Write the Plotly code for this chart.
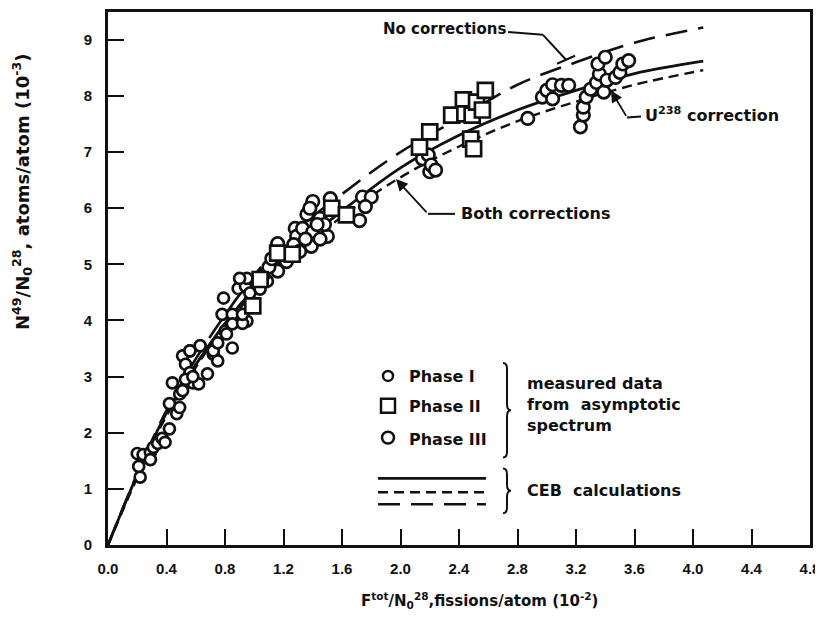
import plotly.graph_objects as go

# ---------------- data ----------------
phase1_x = [0.22, 0.21, 0.20, 0.24, 0.29, 0.31, 0.29, 0.34, 0.37, 0.39, 0.42, 0.42, 0.47, 0.49, 0.49,
            0.44, 0.51, 0.56, 0.63, 0.53, 0.58, 0.62, 0.68, 0.56, 0.72, 0.75, 0.72, 0.85, 0.80, 0.78,
            0.85, 0.92, 0.95, 0.81, 0.75, 0.63, 0.56, 0.79, 0.85, 0.92, 0.92, 0.89, 0.94, 0.95, 0.97,
            0.90, 1.04, 1.09, 0.51, 0.53, 0.58]
phase1_y = [1.21, 1.40, 1.63, 1.61, 1.65, 1.74, 1.52, 1.81, 1.90, 1.83, 2.07, 2.52, 2.34, 2.45, 2.69,
            2.89, 3.37, 3.46, 3.55, 3.22, 2.89, 2.87, 3.05, 3.07, 3.40, 3.28, 3.46, 3.51, 3.81, 4.11,
            4.11, 4.02, 3.99, 3.76, 3.60, 3.55, 3.46, 4.40, 3.94, 3.95, 4.11, 4.57, 4.61, 4.75, 4.49,
            4.75, 4.56, 4.70, 2.75, 2.95, 3.00]

phase2_x = [0.99, 1.04, 1.16, 1.26, 1.53, 1.63, 2.13, 2.20, 2.35, 2.43, 2.44, 2.49, 2.52, 2.56, 2.58,
            2.48, 2.50]
phase2_y = [4.26, 4.73, 5.20, 5.18, 6.00, 5.88, 7.09, 7.36, 7.66, 7.93, 7.68, 7.66, 7.89, 7.75, 8.10,
            7.23, 7.06]

phase3_x = [1.16, 1.16, 1.28, 1.29, 1.39, 1.50, 1.36, 1.45, 1.48, 1.33, 1.40, 1.43, 1.27, 1.31, 1.40,
            1.52, 1.74, 1.80, 1.76, 1.72, 1.22, 1.35, 1.45, 1.38, 1.06, 1.10, 1.12,
            2.15, 2.20, 2.19, 2.21, 2.24, 2.87, 2.97, 3.00, 3.04, 3.10, 3.15, 3.04, 3.23, 3.25, 3.25,
            3.27, 3.30, 3.34, 3.36, 3.35, 3.40, 3.39, 3.41, 3.47, 3.50, 3.52, 3.56]
phase3_y = [4.88, 5.37, 5.64, 5.50, 5.32, 5.50, 5.89, 5.82, 5.71, 5.64, 5.58, 5.71, 5.35, 5.23, 6.12,
            6.17, 6.20, 6.20, 6.03, 5.78, 5.05, 5.45, 5.45, 6.00, 4.80, 4.95, 5.10,
            6.88, 6.65, 6.95, 6.77, 6.68, 7.60, 7.98, 8.10, 8.20, 8.19, 8.19, 7.95, 7.45, 7.66, 7.80,
            7.98, 8.12, 8.24, 8.39, 8.57, 8.69, 8.07, 8.28, 8.33, 8.42, 8.57, 8.63]

# CEB calculation curves
both_x = [0.0, 0.2, 0.4, 0.8, 1.2, 1.6, 2.0, 2.4, 2.8, 3.2, 3.6, 4.07]
both_y = [0.0, 1.25, 2.35, 3.95, 5.1, 5.95, 6.72, 7.3, 7.75, 8.1, 8.4, 8.62]
u238_x = [0.0, 0.2, 0.4, 0.8, 1.2, 1.6, 2.0, 2.4, 2.8, 3.2, 3.6, 4.07]
u238_y = [0.0, 1.2, 2.3, 3.9, 5.0, 5.85, 6.55, 7.1, 7.55, 7.9, 8.2, 8.46]
nocorr_x = [0.0, 0.4, 0.8, 1.2, 1.6, 2.0, 2.4, 2.8, 3.2, 3.6, 4.07]
nocorr_y = [0.0, 2.4, 4.1, 5.4, 6.25, 7.0, 7.6, 8.2, 8.6, 8.95, 9.22]

x_ticks = [0.0, 0.4, 0.8, 1.2, 1.6, 2.0, 2.4, 2.8, 3.2, 3.6, 4.0, 4.4, 4.8]
y_ticks = [0, 1, 2, 3, 4, 5, 6, 7, 8, 9]

# ---------------- layout helpers (screen pixel -> data) ----------------
OFF = 8                      # page body margin of the browser
SW, SH = 823, 620            # screen size
W, H = SW - OFF, SH - OFF    # figure size
PL, PR, PT, PB = 108, 810, 9, 545   # plot area in screen pixels
XMAX = 4.8
YMAX = (PB - PT) / ((545 - 37) / 9.0)


def dx(px):
    return (px - PL) / (PR - PL) * XMAX


def dy(py):
    return (PB - py) / (PB - PT) * YMAX


FONT = "DejaVu Sans"
TICKFONT = "Liberation Sans"
BLACK = "#111111"

fig = go.Figure()

fig.add_trace(go.Scatter(x=nocorr_x, y=nocorr_y, mode="lines", line_shape="spline",
                         line=dict(color=BLACK, width=2.6, dash="22px,11px"), name="No corrections"))
fig.add_trace(go.Scatter(x=u238_x, y=u238_y, mode="lines", line_shape="spline",
                         line=dict(color=BLACK, width=2.4, dash="10px,6px"), name="U238 correction"))
fig.add_trace(go.Scatter(x=both_x, y=both_y, mode="lines", line_shape="spline",
                         line=dict(color=BLACK, width=2.8), name="Both corrections"))

mk_line = dict(color=BLACK, width=2.7)
fig.add_trace(go.Scatter(x=phase1_x, y=phase1_y, mode="markers", name="Phase I",
                         marker=dict(symbol="circle", size=11, color="white", line=mk_line)))
fig.add_trace(go.Scatter(x=phase3_x, y=phase3_y, mode="markers", name="Phase III",
                         marker=dict(symbol="circle", size=12.5, color="white", line=mk_line)))
fig.add_trace(go.Scatter(x=phase2_x, y=phase2_y, mode="markers", name="Phase II",
                         marker=dict(symbol="square", size=15, color="white", line=mk_line)))

shapes = []
annots = []
tfont = dict(family=FONT, size=15, color=BLACK, weight="bold")


def seg(p0, p1, width=2.0, dash="solid"):
    shapes.append(dict(type="line", xref="x", yref="y", x0=dx(p0[0]), y0=dy(p0[1]),
                       x1=dx(p1[0]), y1=dy(p1[1]), line=dict(color=BLACK, width=width, dash=dash)))


def arrow(head, tail):
    annots.append(dict(x=dx(head[0]), y=dy(head[1]), ax=dx(tail[0]), ay=dy(tail[1]),
                       xref="x", yref="y", axref="x", ayref="y", text="", showarrow=True,
                       arrowhead=2, arrowsize=1.3, arrowwidth=1.8, arrowcolor=BLACK))


def text(px, py, s, anchor="left", size=15):
    f = dict(tfont)
    f["size"] = size
    annots.append(dict(x=dx(px), y=dy(py), xref="x", yref="y", text=s, showarrow=False,
                       xanchor=anchor, yanchor="middle", font=f, align="left"))


# curve labels
text(508, 26, "No corrections", anchor="right", size=15)
seg((508, 29), (543, 32))
seg((543, 32), (566, 57))
seg((557, 61), (575, 53), width=2.2)

text(643, 112, "U<sup>238</sup> correction", size=16)
seg((641, 114), (627, 115))
arrow((611, 88), (627, 115))

text(459, 212, "Both corrections", size=16)
seg((455, 212), (428, 212))
arrow((396, 177), (428, 212))


# legend (drawn by hand like the original)
def circle(cx, cy, r):
    shapes.append(dict(type="circle", xref="x", yref="y", x0=dx(cx - r), x1=dx(cx + r),
                       y0=dy(cy + r), y1=dy(cy - r), line=dict(color=BLACK, width=2.5),
                       fillcolor="white"))


circle(388, 375, 5)
shapes.append(dict(type="rect", xref="x", yref="y", x0=dx(381), x1=dx(395), y0=dy(412), y1=dy(398),
                   line=dict(color=BLACK, width=2.5), fillcolor="white"))
circle(388, 437, 6)
text(407, 376, "Phase I", size=16)
text(407, 406, "Phase II", size=16)
text(407, 439, "Phase III", size=16)

seg((378, 478), (486, 478), width=2.6)
seg((378, 492), (486, 492), width=2.4, dash="10px,6px")
seg((378, 504), (486, 504), width=2.6, dash="22px,11px")


def brace(x0, yt, yb, w=8, r=6):
    ym = (yt + yb) / 2
    xm = x0 + w / 2
    pts = [("M", [(x0, yt)]), ("Q", [(xm, yt), (xm, yt + r)]), ("L", [(xm, ym - r)]),
           ("Q", [(xm, ym), (x0 + w, ym)]), ("Q", [(xm, ym), (xm, ym + r)]), ("L", [(xm, yb - r)]),
           ("Q", [(xm, yb), (x0, yb)])]
    path = ""
    for cmd, ps in pts:
        path += cmd + " " + " ".join(f"{dx(px):.5f},{dy(py):.5f}" for px, py in ps) + " "
    shapes.append(dict(type="path", xref="x", yref="y", path=path.strip(),
                       line=dict(color=BLACK, width=2.0)))


brace(503, 362, 457)
brace(503, 468, 513)
text(525, 404, "measured data<br>from  asymptotic<br>spectrum", size=16)
text(525, 490, "CEB  calculations", size=16)

# axis titles
annots.append(dict(x=0.5 + (479 - (PL + PR) / 2) / (PR - PL), y=-(601 - PB) / (PB - PT),
                   xref="paper", yref="paper", showarrow=False, xanchor="center", yanchor="middle",
                   text="F<sup>tot</sup>/N<sub>0</sub><sup>28</sup>,fissions/atom (10<sup>-2</sup>)",
                   font=dict(family=FONT, size=15, color=BLACK, weight="bold")))
annots.append(dict(x=-(PL - 22) / (PR - PL), y=(PB - 190) / (PB - PT),
                   xref="paper", yref="paper", showarrow=False, xanchor="center", yanchor="middle",
                   textangle=-90,
                   text="N<sup>49</sup>/N<sub>0</sub><sup>28</sup>, atoms/atom (10<sup>-3</sup>)",
                   font=dict(family=FONT, size=18, color=BLACK, weight="bold")))

axis_common = dict(showline=True, linecolor=BLACK, linewidth=2.6, mirror=True, showgrid=False,
                   zeroline=False, ticks="inside", ticklen=16, tickwidth=2, tickcolor=BLACK,
                   tickfont=dict(family=TICKFONT, size=15, color=BLACK, weight="bold"))

fig.update_layout(
    width=W, height=H,
    margin=dict(l=PL - OFF, r=SW - PR, t=PT - OFF, b=SH - PB),
    paper_bgcolor="white", plot_bgcolor="white",
    showlegend=False,
    shapes=shapes, annotations=annots,
    xaxis=dict(range=[0, XMAX], tickvals=x_ticks, ticktext=[f"{v:.1f}" for v in x_ticks],
               ticklabelstandoff=8, **axis_common),
    yaxis=dict(range=[0, YMAX], tickvals=y_ticks, ticklabelstandoff=10, **axis_common),
)

fig.write_html("out.html")
